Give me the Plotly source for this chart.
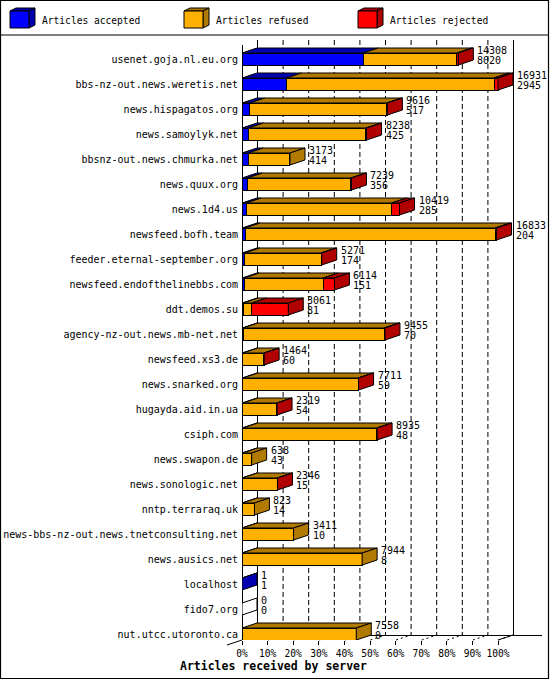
import plotly.graph_objects as go

# ---------------- data ----------------
servers = [
    "usenet.goja.nl.eu.org",
    "bbs-nz-out.news.weretis.net",
    "news.hispagatos.org",
    "news.samoylyk.net",
    "bbsnz-out.news.chmurka.net",
    "news.quux.org",
    "news.1d4.us",
    "newsfeed.bofh.team",
    "feeder.eternal-september.org",
    "newsfeed.endofthelinebbs.com",
    "ddt.demos.su",
    "agency-nz-out.news.mb-net.net",
    "newsfeed.xs3.de",
    "news.snarked.org",
    "hugayda.aid.in.ua",
    "csiph.com",
    "news.swapon.de",
    "news.sonologic.net",
    "nntp.terraraq.uk",
    "news-bbs-nz-out.news.tnetconsulting.net",
    "news.ausics.net",
    "localhost",
    "fido7.org",
    "nut.utcc.utoronto.ca",
]
offered = [14308, 16931, 9616, 8238, 3173, 7239, 10419, 16833, 5271, 6114, 3061, 9455,
           1464, 7711, 2319, 8935, 638, 2346, 823, 3411, 7944, 1, 0, 7558]
accepted = [8020, 2945, 517, 425, 414, 356, 285, 204, 174, 151, 81, 70,
            60, 59, 54, 48, 43, 15, 14, 10, 8, 1, 0, 0]
refused = [6188, 13726, 9059, 7773, 2759, 6843, 9614, 16529, 5067, 5223, 560, 9325,
           1384, 7622, 2245, 8867, 595, 2316, 809, 3401, 7936, 0, 0, 7558]
rejected = [100, 260, 40, 40, 0, 40, 520, 100, 30, 740, 2420, 60,
            20, 30, 20, 20, 0, 15, 0, 0, 0, 0, 0, 0]

series_names = ["Articles accepted", "Articles refused", "Articles rejected"]
tick_pct = [0, 10, 20, 30, 40, 50, 60, 70, 80, 90, 100]
tick_text = ["0%", "10%", "20%", "30%", "40%", "50%", "60%", "70%", "80%", "90%", "100%"]
axis_title = "Articles received by server"

# ---------------- style ----------------
front_colors = ["#0000ff", "#ffb000", "#ff0000"]
shade_colors = ["#0000b0", "#b07900", "#b00000"]
FONT = "DejaVu Sans Mono"

W, H = 550, 680
L, R, T, B = 242, 545, 35, 640      # plot area in pixels
PX_PER_PCT = 2.56
ROW_PX = 25
ROW0_PX = 59
DEPTH_X, DEPTH_Y = 15, 5
BAR_PX = 12


def xd(px):
    return (px - L) / PX_PER_PCT


def yd(py):
    return (py - ROW0_PX) / ROW_PX


def xp(px):
    return (px - L) / (R - L)


def yp(py):
    return (B - py) / (B - T)


DX = DEPTH_X / PX_PER_PCT
DY = DEPTH_Y / ROW_PX
HALF = BAR_PX / 2 / ROW_PX
scale_max = max(offered)


def pct(v):
    return v / scale_max * 100.0


n = len(servers)
rows = list(range(n))
series = [accepted, refused, rejected]

fig = go.Figure()
for k, vals in enumerate(series):
    fig.add_trace(go.Bar(
        y=rows, x=[pct(v) for v in vals], orientation="h",
        width=BAR_PX / ROW_PX, name=series_names[k],
        marker=dict(color=front_colors[k], line=dict(color="black", width=1)),
        showlegend=False, hoverinfo="skip",
    ))

shapes = []
BLACK = dict(color="black", width=1)


def pline(x0, y0, x1, y1, dash=None, layer="below"):
    ln = dict(color="black", width=1)
    if dash:
        ln["dash"] = dash
    shapes.append(dict(type="line", xref="paper", yref="paper",
                       x0=xp(x0), y0=yp(y0), x1=xp(x1), y1=yp(y1),
                       line=ln, layer=layer))


# back wall grid and floor
for k in range(1, 10):
    gx = L + DEPTH_X + k * 10 * PX_PER_PCT + 0.5
    pline(gx, 40, gx, 635, dash="5px,3px")
for k in range(1, 11):
    fx = L + k * 10 * PX_PER_PCT + 0.5
    pline(fx, 640, fx + DEPTH_X, 635, dash="2px,3px")
pline(L + DEPTH_X + 0.5, 40, L + DEPTH_X + 0.5, 635)
pline(L + DEPTH_X + 100 * PX_PER_PCT + 0.5, 40, L + DEPTH_X + 100 * PX_PER_PCT + 0.5, 635)
pline(L + DEPTH_X, 635.5, 542, 635.5)
pline(L + 100 * PX_PER_PCT, 640, L + DEPTH_X + 100 * PX_PER_PCT, 635)
pline(227, 645, 242, 640, layer="above")
pline(242.5, 45, 242.5, 640, layer="above")

# 3D faces of bars (data coords)
for i in rows:
    yt = i - HALF
    yb = i + HALF
    start = 0
    last_k = None
    for k, vals in enumerate(series):
        v = vals[i]
        if v <= 0:
            continue
        x0 = pct(start)
        x1 = pct(start + v)
        shapes.append(dict(
            type="path", xref="x", yref="y", layer="above",
            path=f"M{x0},{yt} L{x1},{yt} L{x1 + DX},{yt - DY} L{x0 + DX},{yt - DY} Z",
            fillcolor=shade_colors[k], line=BLACK))
        start += v
        last_k = k
    xe = pct(start)
    side_col = shade_colors[last_k] if last_k is not None else "white"
    shapes.append(dict(
        type="path", xref="x", yref="y", layer="above",
        path=f"M{xe},{yb} L{xe},{yt} L{xe + DX},{yt - DY} L{xe + DX},{yb - DY} Z",
        fillcolor=side_col, line=BLACK))

# frame + legend separator
shapes.append(dict(type="rect", xref="paper", yref="paper",
                   x0=xp(0.5), y0=yp(0.5), x1=xp(548.5), y1=yp(678.5),
                   line=dict(color="black", width=1.2), fillcolor="rgba(0,0,0,0)", layer="above"))
pline(0, 35, 549, 35, layer="above")

annotations = []
# legend
legend_x = [10, 184, 358]
for k in range(3):
    x0 = legend_x[k]
    fx1 = x0 + 19
    fy0, fy1 = 11, 28
    shapes.append(dict(type="path", xref="paper", yref="paper", layer="above",
                       path=f"M{xp(x0)},{yp(fy0)} L{xp(fx1)},{yp(fy0)} L{xp(fx1 + 6)},{yp(fy0 - 3)} L{xp(x0 + 6)},{yp(fy0 - 3)} Z",
                       fillcolor=shade_colors[k], line=BLACK))
    shapes.append(dict(type="path", xref="paper", yref="paper", layer="above",
                       path=f"M{xp(fx1)},{yp(fy1)} L{xp(fx1)},{yp(fy0)} L{xp(fx1 + 6)},{yp(fy0 - 3)} L{xp(fx1 + 6)},{yp(fy1 - 3)} Z",
                       fillcolor=shade_colors[k], line=BLACK))
    shapes.append(dict(type="rect", xref="paper", yref="paper", layer="above",
                       x0=xp(x0), x1=xp(fx1), y0=yp(fy1), y1=yp(fy0),
                       fillcolor=front_colors[k], line=BLACK))
    annotations.append(dict(xref="paper", yref="paper", x=xp(x0 + 30), y=yp(20),
                            xanchor="left", yanchor="middle", showarrow=False,
                            text=series_names[k], font=dict(family=FONT, size=9.6, color="black")))

# value labels
for i in rows:
    annotations.append(dict(xref="x", yref="y", x=pct(offered[i]), y=i, xanchor="left",
                            yanchor="middle", xshift=DEPTH_X + 2, yshift=9, showarrow=False,
                            text=str(offered[i]), font=dict(family=FONT, size=10, color="black")))
    annotations.append(dict(xref="x", yref="y", x=pct(offered[i]), y=i, xanchor="left",
                            yanchor="middle", xshift=DEPTH_X + 2, yshift=-1.5, showarrow=False,
                            text=str(accepted[i]), font=dict(family=FONT, size=10, color="black")))

annotations.append(dict(xref="paper", yref="paper", x=xp(273), y=yp(666), xanchor="center",
                        yanchor="middle", showarrow=False, text=f"<b>{axis_title}</b>",
                        font=dict(family=FONT, size=11.5, color="black")))

fig.update_layout(
    width=W, height=H, barmode="stack",
    margin=dict(l=L, r=W - R, t=T, b=H - B, autoexpand=False),
    paper_bgcolor="white", plot_bgcolor="white",
    shapes=shapes, annotations=annotations, showlegend=False,
    xaxis=dict(range=[0, xd(R)], tickvals=tick_pct, ticktext=tick_text,
               ticks="outside", ticklen=4, tickcolor="black", tickwidth=1,
               showgrid=False, zeroline=False, showline=False, fixedrange=True,
               tickfont=dict(family=FONT, size=9.6, color="black")),
    yaxis=dict(range=[yd(B), yd(T)], tickvals=rows, ticktext=servers, ticks="",
               ticklabelstandoff=3,
               showgrid=False, zeroline=False, showline=False, fixedrange=True,
               tickfont=dict(family=FONT, size=10, color="black")),
)
fig.write_html("out.html", config={"displayModeBar": False},
               post_script="document.body.style.margin='0';document.body.style.padding='0';")
